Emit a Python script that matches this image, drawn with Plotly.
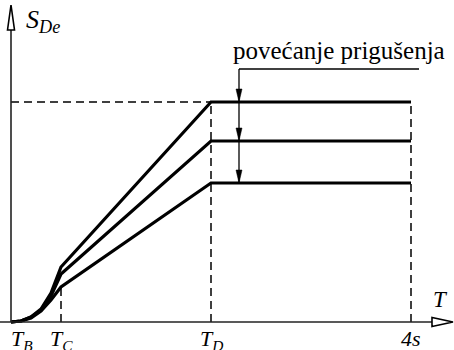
import plotly.graph_objects as go

# Displacement response spectrum S_De(T) for three damping levels
periods = [0, 0.1, 0.2, 0.3, 0.4, 0.5, 2.0, 4.0]
s_damp_low = [0, 0.01, 0.05, 0.13, 0.29, 0.55, 2.20, 2.20]
s_damp_mid = [0, 0.01, 0.05, 0.12, 0.26, 0.48, 1.81, 1.81]
s_damp_high = [0, 0.01, 0.04, 0.11, 0.22, 0.35, 1.39, 1.39]

# Corner periods and their tick labels
corner_periods = [0.0, 0.5, 2.0, 4.0]
corner_labels = ["<i>T</i><sub><i>B</i></sub>", "<i>T</i><sub><i>C</i></sub>",
                 "<i>T</i><sub><i>D</i></sub>", "<i>4s</i>"]

# Leader for the damping annotation
leader_x = 2.28
leader_top = 2.53
leader_end_x = 4.08
note_text = "povećanje prigušenja"

FONT = "Liberation Serif, Times New Roman, serif"
INK = "#000000"

fig = go.Figure()
for s in (s_damp_low, s_damp_mid, s_damp_high):
    fig.add_trace(go.Scatter(x=periods, y=s, mode="lines",
                             line=dict(color=INK, width=3.2),
                             hoverinfo="skip", showlegend=False))

shapes = []
dash = dict(color=INK, width=1.5, dash="8px,5px")
s_top = s_damp_low[-1]
# horizontal dashed guide at the plateau level
shapes.append(dict(type="line", x0=0, x1=periods[-2], y0=s_top, y1=s_top, line=dash))
# vertical dashed guides at T_C, T_D and 4 s
shapes.append(dict(type="line", x0=periods[5], x1=periods[5], y0=0, y1=s_damp_high[5], line=dash))
shapes.append(dict(type="line", x0=periods[-2], x1=periods[-2], y0=0, y1=s_top, line=dash))
shapes.append(dict(type="line", x0=periods[-1], x1=periods[-1], y0=0, y1=s_top, line=dash))

# axes
axis_line = dict(color="#222222", width=1.6)
shapes.append(dict(type="line", x0=-0.11, x1=4.21, y0=0, y1=0, line=axis_line))
shapes.append(dict(type="line", x0=0, x1=0, y0=0, y1=2.95, line=axis_line))
# hollow arrowheads on axes
shapes.append(dict(type="path", xref="x", yref="y", xsizemode="pixel", ysizemode="pixel",
                   xanchor=4.21, yanchor=0, path="M 0,-4.5 L 21,0 L 0,4.5 Z",
                   line=dict(color=INK, width=1.6), fillcolor="white"))
shapes.append(dict(type="path", xref="x", yref="y", xsizemode="pixel", ysizemode="pixel",
                   xanchor=0, yanchor=2.92, path="M -3.5,0 L 0,25 L 3.5,0 Z",
                   line=dict(color=INK, width=1.6), fillcolor="white"))

# leader line with arrowheads on each plateau
shapes.append(dict(type="line", x0=leader_x, x1=leader_end_x, y0=leader_top, y1=leader_top,
                   line=dict(color=INK, width=1.3)))
shapes.append(dict(type="line", x0=leader_x, x1=leader_x, y0=leader_top, y1=s_damp_high[-1],
                   line=dict(color=INK, width=1.3)))
for level in (s_damp_low[-1], s_damp_mid[-1], s_damp_high[-1]):
    shapes.append(dict(type="path", xref="x", yref="y", xsizemode="pixel", ysizemode="pixel",
                       xanchor=leader_x, yanchor=level, path="M -3,13 L 0,0 L 3,13 Z",
                       line=dict(color=INK, width=0.5), fillcolor=INK))

annotations = []
for t, lab in zip(corner_periods, corner_labels):
    annotations.append(dict(x=t, y=0, xref="x", yref="y", text=lab, showarrow=False,
                            xanchor="center", yanchor="top", yshift=-2,
                            xshift=11 if t == 0 else 0,
                            font=dict(family=FONT, size=22, color=INK)))
annotations.append(dict(x=4.29, y=0.23, xref="x", yref="y", text="<i>T</i>", showarrow=False,
                        font=dict(family=FONT, size=23, color=INK)))
annotations.append(dict(x=0.13, y=3.01, xref="x", yref="y", xanchor="left",
                        text="<i>S</i><sub><i>De</i></sub>", showarrow=False,
                        font=dict(family=FONT, size=26, color=INK)))
annotations.append(dict(x=3.28, y=2.72, xref="x", yref="y", text=note_text, showarrow=False,
                        font=dict(family=FONT, size=25, color=INK)))

fig.update_layout(
    width=454, height=350,
    margin=dict(l=0, r=0, t=0, b=0),
    paper_bgcolor="white", plot_bgcolor="white",
    xaxis=dict(range=[-0.11, 4.43], visible=False, fixedrange=True),
    yaxis=dict(range=[-0.28, 3.22], visible=False, fixedrange=True),
    shapes=shapes, annotations=annotations, showlegend=False,
)

fig.write_html("out.html")
